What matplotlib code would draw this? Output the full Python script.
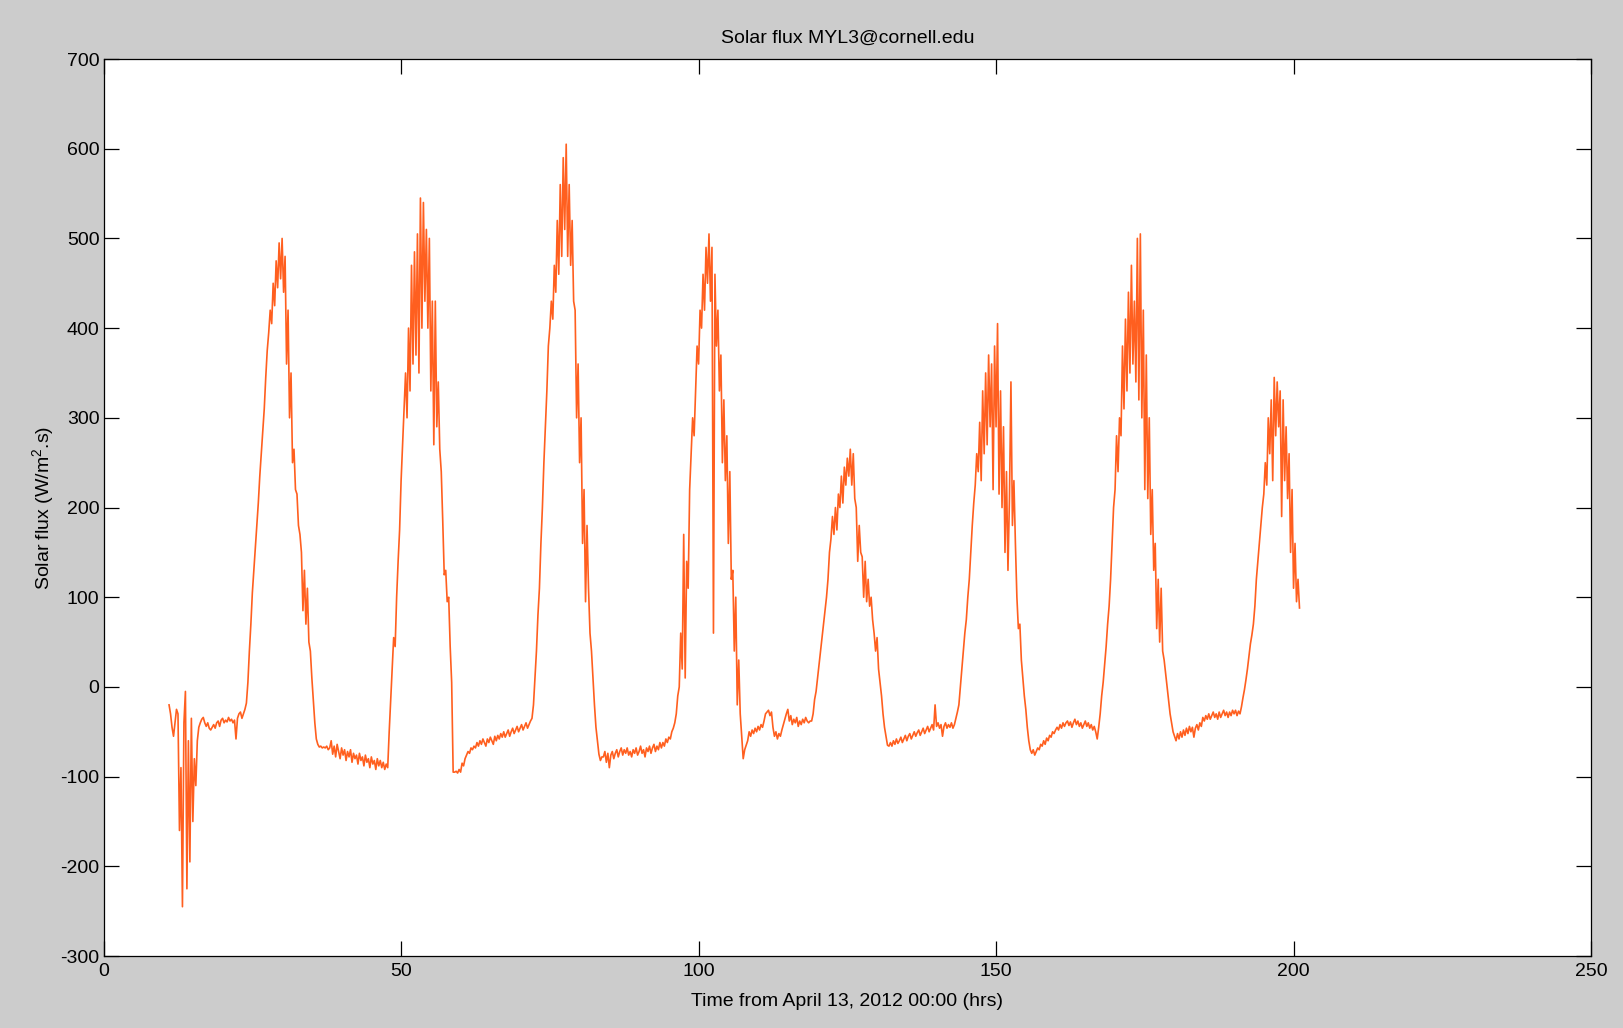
import numpy as np
import matplotlib
matplotlib.use("Agg")
import matplotlib.pyplot as plt

# ---- data: solar flux (W/m^2.s), sampled every 0.25 h, hours from April 13, 2012 00:00 ----
STEP_HR = 0.25

start_a, seg_a = 11.0, [-20, -30, -45, -55, -40, -25, -30, -160, -90, -245,
                        -40, -5, -225, -60, -195, -35, -150, -80, -110, -60,
                        -45, -40, -36, -34, -40, -44, -40, -46, -48, -45,
                        -42, -46, -40, -38, -44, -37, -35, -40, -37, -39,
                        -34, -38, -36, -40, -37, -58, -35, -30, -28, -35,
                        -30, -25]
start_b, seg_b = 24.0, [-18, 5, 40, 70, 105, 130, 155, 180, 205, 235,
                        260, 285, 310, 345, 375, 395, 420, 405, 450, 425,
                        475, 445, 495, 455, 500, 440, 480, 360, 420, 300,
                        350, 250, 265, 220, 215, 180, 170, 150, 85, 130,
                        70, 110, 50, 40, 10, -15, -40, -58]
start_c, seg_c = 36.0, [-64, -67, -66, -68, -67, -68, -66, -70, -68, -60,
                        -75, -66, -78, -64, -72, -80, -68, -76, -70, -82,
                        -72, -78, -70, -84, -74, -80, -76, -86, -74, -82,
                        -78, -88, -76, -84, -80, -90, -78, -86, -82, -92,
                        -80, -88, -82, -90, -84, -92, -86, -90]
start_d, seg_d = 48.0, [-50, -15, 20, 55, 45, 100, 140, 175, 230, 270,
                        310, 350, 300, 400, 330, 470, 360, 485, 370, 505,
                        350, 545, 400, 540, 430, 510, 400, 500, 330, 430,
                        270, 430, 290, 340, 265, 240, 185, 125, 130, 95,
                        100, 45, 5, -95]
start_e, seg_e = 59.0, [-95, -94, -96, -92, -95, -85, -88, -80, -76, -72,
                        -74, -68, -70, -66, -68, -62, -66, -60, -64, -58,
                        -62, -66, -58, -62, -56, -60, -64, -55, -60, -54,
                        -58, -52, -56, -50, -56, -52, -48, -55, -50, -46,
                        -52, -48, -44, -50, -46, -42, -48, -44, -40, -46,
                        -42, -38]
start_f, seg_f = 72.0, [-35, -20, 10, 40, 80, 110, 160, 200, 250, 290,
                        330, 380, 400, 430, 410, 470, 440, 520, 460, 560,
                        480, 590, 510, 605, 480, 560, 470, 520, 430, 420,
                        300, 360, 250, 300, 160, 220, 95, 180, 110, 60,
                        40, 10, -20, -45, -60, -75, -82, -78]
start_g, seg_g = 84.0, [-78, -72, -84, -74, -90, -76, -72, -80, -74, -70,
                        -78, -72, -68, -76, -70, -74, -68, -76, -72, -78,
                        -70, -74, -68, -76, -72, -66, -74, -70, -78, -68,
                        -72, -66, -74, -68, -64, -72, -66, -70, -62, -68,
                        -62, -66, -58, -62, -56, -58, -50, -46]
start_h, seg_h = 96.0, [-40, -30, -10, 0, 60, 20, 170, 10, 140, 110,
                        220, 260, 300, 280, 330, 380, 360, 420, 400, 460,
                        420, 490, 450, 505, 430, 490, 60, 460, 380, 420,
                        330, 370, 250, 320, 230, 280, 160, 240, 120, 130,
                        40, 100, -20, 30, -30, -55, -80, -70]
start_i, seg_i = 108.0, [-65, -60, -50, -55, -48, -52, -46, -50, -44, -48,
                         -42, -45, -38, -30, -28, -26, -32, -28, -45, -55,
                         -50, -58, -52, -55, -48, -42, -36, -30, -25, -38,
                         -32, -42, -36, -40, -34, -44, -38, -42, -36, -40,
                         -34, -38, -40, -38]
start_j, seg_j = 119.0, [-38, -30, -14, -5, 10, 25, 40, 55, 70, 85,
                         100, 120, 150, 165, 190, 170, 200, 175, 215, 200,
                         235, 205, 245, 225, 255, 235, 265, 225, 260, 210,
                         200, 140, 180, 150, 145, 100, 140, 95, 120, 90,
                         100, 75, 60, 40, 55, 20, 5, -10, -30, -45,
                         -55, -65]
start_k, seg_k = 132.0, [-66, -62, -66, -60, -64, -58, -63, -60, -56, -62,
                         -58, -54, -60, -55, -52, -58, -54, -50, -55, -51,
                         -48, -54, -50, -46, -52, -48, -44, -50, -46, -42,
                         -48, -20, -44, -40, -46, -42, -55, -44, -40, -46,
                         -42, -45, -40, -46, -42, -35, -28, -20]
start_l, seg_l = 144.0, [0, 19, 41, 60, 75, 100, 120, 150, 180, 205,
                         225, 260, 240, 295, 230, 330, 260, 350, 270, 370,
                         290, 360, 220, 380, 290, 405, 215, 330, 200, 290,
                         150, 240, 130, 210, 340, 180, 230, 160, 100, 65,
                         70, 30, 10, -10, -25, -45, -60, -70]
start_m, seg_m = 156.0, [-74, -70, -76, -72, -68, -70, -64, -66, -60, -64,
                         -57, -60, -54, -56, -50, -52, -48, -45, -48, -42,
                         -46, -40, -44, -40, -38, -43, -39, -45, -40, -36,
                         -42, -38, -44, -40, -46, -42, -38, -44, -40, -46,
                         -42, -48, -44, -50, -58, -45, -30, -10]
start_n, seg_n = 168.0, [5, 25, 45, 70, 90, 120, 160, 200, 220, 280,
                         240, 300, 280, 380, 310, 410, 330, 440, 350, 470,
                         360, 430, 340, 500, 320, 505, 300, 420, 220, 370,
                         210, 300, 170, 220, 130, 160, 65, 120, 50, 110,
                         40, 30, 15, 0, -15, -30, -40, -50]
start_o, seg_o = 180.0, [-55, -60, -52, -58, -50, -56, -48, -54, -46, -52,
                         -44, -50, -45, -56, -46, -42, -48, -40, -44, -34,
                         -38, -32, -36, -30, -36, -32, -28, -34, -30, -36,
                         -28, -34, -30, -26, -32, -28, -34, -28, -32, -26,
                         -30, -26, -32, -27, -30, -22, -12, -3]
start_p, seg_p = 192.0, [8, 20, 34, 48, 58, 70, 90, 120, 140, 160,
                         180, 200, 215, 250, 225, 300, 260, 320, 230, 345,
                         280, 340, 290, 330, 190, 320, 230, 290, 210, 260,
                         150, 220, 110, 160, 95, 120, 88]

segments = [(start_a, seg_a), (start_b, seg_b), (start_c, seg_c), (start_d, seg_d),
            (start_e, seg_e), (start_f, seg_f), (start_g, seg_g), (start_h, seg_h),
            (start_i, seg_i), (start_j, seg_j), (start_k, seg_k), (start_l, seg_l),
            (start_m, seg_m), (start_n, seg_n), (start_o, seg_o), (start_p, seg_p)]

x_ticks = [0, 50, 100, 150, 200, 250]
y_ticks = [-300, -200, -100, 0, 100, 200, 300, 400, 500, 600, 700]

time_hr = np.concatenate([s + STEP_HR * np.arange(len(v)) for s, v in segments])
flux = np.concatenate([np.asarray(v, dtype=float) for s, v in segments])

# ---- figure ----
plt.rcParams['font.family'] = ['Liberation Sans', 'DejaVu Sans']
plt.rcParams['mathtext.fontset'] = 'custom'
plt.rcParams['mathtext.rm'] = 'Liberation Sans'
plt.rcParams['axes.unicode_minus'] = False

fig = plt.figure(figsize=(16.24, 10.28), dpi=100, facecolor='#cccccc')
ax = fig.add_axes([0.0638, 0.0700, 0.9159, 0.8726])
ax.set_facecolor('white')

ax.plot(time_hr, flux, color='#ff5f1f', lw=1.2)

ax.set_xlim(0, 250)
ax.set_ylim(-300, 700)
ax.set_xticks(x_ticks)
ax.set_yticks(y_ticks)
for sp in ax.spines.values():
    sp.set_linewidth(0.9)
    sp.set_color('black')
ax.tick_params(direction='in', length=10.5, width=0.9, top=True, right=True,
               labelsize=14, colors='black')
ax.tick_params(axis='x', pad=5)
ax.tick_params(axis='y', pad=3)

ax.set_title('Solar flux MYL3@cornell.edu', fontsize=14, pad=11.5)
ax.set_xlabel('Time from April 13, 2012 00:00 (hrs)', fontsize=14)
ax.set_ylabel('Solar flux (W/m$^2$.s)', fontsize=14)
ax.xaxis.set_label_coords(0.5, -0.051)
ax.xaxis.label.set_va('center')
ax.yaxis.set_label_coords(-0.0405, 0.5)
ax.yaxis.label.set_va('center')

fig.savefig('out.png', dpi=100, facecolor=fig.get_facecolor())
